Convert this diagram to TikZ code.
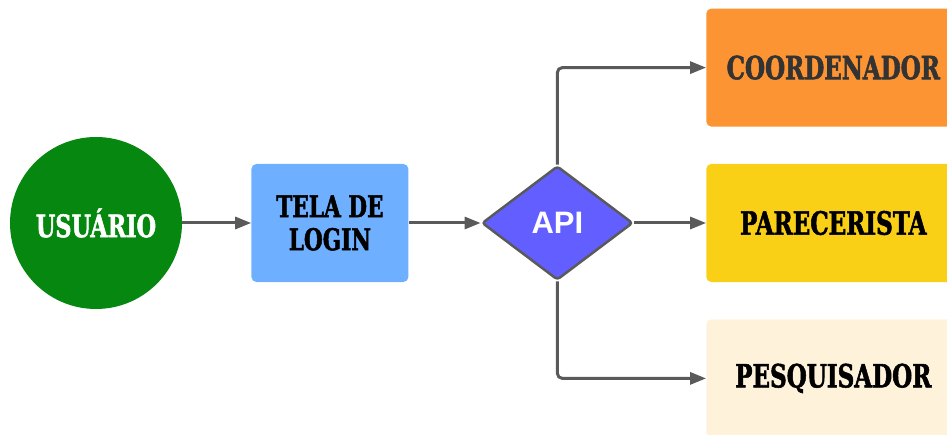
\documentclass[tikz,border=0pt]{standalone}
\usepackage{fontspec}
\newfontfamily\slabfont[FakeStretch=0.72,FakeBold=1.6]{DejaVu Serif}
\newfontfamily\apifont{Liberation Sans}
\usetikzlibrary{arrows.meta,positioning,shapes.geometric}

\definecolor{usergreen}{RGB}{6,136,16}
\definecolor{loginblue}{RGB}{110,176,255}
\definecolor{apiviolet}{RGB}{98,94,255}
\definecolor{coordorange}{RGB}{252,148,51}
\definecolor{parecyellow}{RGB}{250,208,22}
\definecolor{pesqcream}{RGB}{255,242,218}
\definecolor{linegray}{RGB}{90,90,90}

\begin{document}
\begin{tikzpicture}[
  x=1pt, y=1pt,
  >={Triangle[length=16pt,width=12pt]},
  node distance=37pt and 72pt,
  box/.style={rectangle,rounded corners=5pt,minimum width=157pt,minimum height=118pt,
    inner sep=2pt,align=center,font=\slabfont\bfseries\fontsize{30}{33}\selectfont},
  role/.style={box,minimum width=254pt,font=\slabfont\bfseries\fontsize{32}{34}\selectfont},
  link/.style={draw=linegray,line width=3pt,->,rounded corners=5pt}
]
\useasboundingbox (0,0) rectangle (947,434);

\node (usuario) [circle,fill=usergreen,minimum size=172pt,text=white,
  font=\slabfont\bfseries\fontsize{31}{33}\selectfont] at (96,211) {USUÁRIO};
\node (tela) [box,fill=loginblue,right=69pt of usuario] {TELA DE\\LOGIN};
\node (api) [diamond,fill=apiviolet,draw=linegray,line width=2.5pt,rounded corners=3pt,
  minimum width=151pt,minimum height=114pt,inner sep=0pt,text=white,
  font=\apifont\bfseries\fontsize{31}{33}\selectfont,right=72pt of tela] {API};

\node (parec) [role,fill=parecyellow,right=72pt of api] {PARECERISTA};
\node (coord) [role,fill=coordorange,text={rgb,255:red,51;green,51;blue,51},above=37pt of parec] {COORDENADOR};
\node (pesq) [role,fill=pesqcream,below=37pt of parec] {PESQUISADOR};

\draw[link] (usuario) -- (tela);
\draw[link] (tela) -- (api);
\draw[link] (api) -- (parec);
\draw[link] (api.north) |- (coord.west);
\draw[link] (api.south) |- (pesq.west);
\end{tikzpicture}
\end{document}
